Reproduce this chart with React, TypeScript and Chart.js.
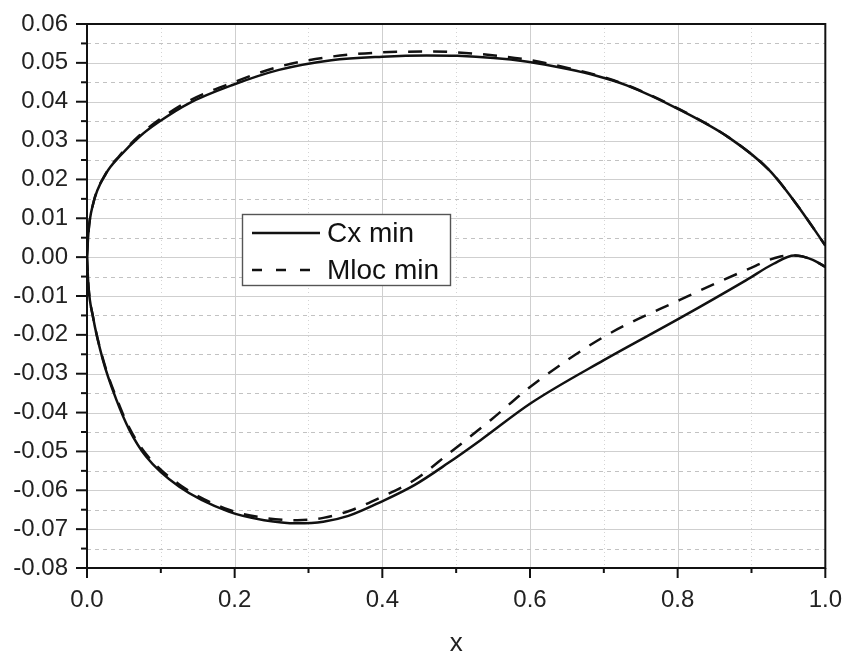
import React, { useEffect, useRef } from 'react';
import { Chart, registerables } from 'chart.js';

Chart.register(...registerables);

// ---- Data ----
const upperX = [0, 0.002, 0.008, 0.026, 0.044, 0.071, 0.098, 0.138, 0.197, 0.26, 0.331, 0.4, 0.46, 0.502, 0.597, 0.651, 0.691, 0.731, 0.803, 0.87, 0.924, 0.96, 1.0];
const cxUpperY = [0, 0.0065, 0.0135, 0.0216, 0.0259, 0.031, 0.0349, 0.0396, 0.0443, 0.0482, 0.0507, 0.0516, 0.0519, 0.0518, 0.0503, 0.0484, 0.0466, 0.0442, 0.0379, 0.0307, 0.0224, 0.0139, 0.003];
const mlocUpperY = [0, 0.0065, 0.0135, 0.0217, 0.0261, 0.0313, 0.0354, 0.0402, 0.0449, 0.049, 0.0516, 0.0527, 0.0529, 0.0527, 0.0508, 0.0487, 0.0468, 0.0443, 0.038, 0.0307, 0.0224, 0.0139, 0.003];

const cxLowerX = [0, 0.002, 0.008, 0.0216, 0.04, 0.0575, 0.08, 0.125, 0.192, 0.24, 0.285, 0.32, 0.354, 0.399, 0.444, 0.489, 0.533, 0.601, 0.7, 0.803, 0.893, 0.93, 0.958, 0.983, 1.0];
const cxLowerY = [0, -0.0075, -0.0153, -0.0265, -0.0368, -0.0445, -0.0513, -0.0591, -0.0655, -0.0677, -0.0685, -0.0681, -0.0666, -0.0629, -0.0586, -0.053, -0.0471, -0.0376, -0.0265, -0.0157, -0.0059, -0.0017, 0.0004, -0.0007, -0.0025];

const mlocLowerX = [0, 0.002, 0.008, 0.0216, 0.04, 0.0575, 0.08, 0.125, 0.192, 0.24, 0.285, 0.32, 0.354, 0.399, 0.444, 0.489, 0.547, 0.601, 0.7, 0.803, 0.893, 0.938, 0.96, 0.983, 1.0];
const mlocLowerY = [0, -0.0075, -0.0152, -0.0262, -0.0363, -0.044, -0.0507, -0.0585, -0.065, -0.0671, -0.0677, -0.0671, -0.0654, -0.0617, -0.0573, -0.0507, -0.0419, -0.0333, -0.0205, -0.011, -0.0033, 0.0001, 0.0004, -0.0007, -0.0025];

const seriesLabels = ['Cx min', 'Mloc min'];
const xAxisTitle = 'x';
const xRange = [0, 1];
const yRange = [-0.08, 0.06];
const xStep = 0.1;
const yStep = 0.005;

const FONT = '"Liberation Sans", Arial, Helvetica, sans-serif';

function pts(xs: number[], ys: number[]) {
  return xs.map((x, i) => ({ x, y: ys[i] }));
}

const isMajorX = (v: number) => Math.round(v * 10) % 2 === 0;
const isMajorY = (v: number) => Math.round(v * 1000) % 10 === 0;

const framePlugin = {
  id: 'frame',
  beforeDatasetsDraw(chart: any) {
    const { ctx, chartArea: a, scales } = chart;
    const xs = scales.x;
    const ys = scales.y;
    ctx.save();
    ctx.lineWidth = 1;
    xs.ticks.forEach((t: any) => {
      const v = t.value;
      if (v <= 1e-9 || v >= 1 - 1e-9) return;
      const px = Math.round(xs.getPixelForValue(v)) + 0.5;
      const major = isMajorX(v);
      ctx.strokeStyle = major ? '#cfcfcf' : '#d4d4d4';
      ctx.setLineDash(major ? [] : [1, 3]);
      ctx.beginPath();
      ctx.moveTo(px, a.top);
      ctx.lineTo(px, a.bottom);
      ctx.stroke();
    });
    ys.ticks.forEach((t: any) => {
      const v = t.value;
      if (v <= yRange[0] + 1e-9 || v >= yRange[1] - 1e-9) return;
      const py = Math.round(ys.getPixelForValue(v)) + 0.5;
      const major = isMajorY(v);
      ctx.strokeStyle = major ? '#cfcfcf' : '#c2c2c2';
      ctx.setLineDash(major ? [] : [4, 4]);
      ctx.beginPath();
      ctx.moveTo(a.left, py);
      ctx.lineTo(a.right, py);
      ctx.stroke();
    });
    ctx.restore();
  },
  afterDatasetsDraw(chart: any) {
    const { ctx, chartArea: a, scales } = chart;
    const xs = scales.x;
    const ys = scales.y;
    ctx.save();
    ctx.setLineDash([]);
    ctx.strokeStyle = '#111';
    ctx.lineWidth = 2;
    ctx.strokeRect(a.left, a.top, a.right - a.left, a.bottom - a.top);
    xs.ticks.forEach((t: any) => {
      const v = t.value;
      const px = xs.getPixelForValue(v);
      const len = isMajorX(v) ? 10 : 5;
      ctx.beginPath();
      ctx.moveTo(px, a.bottom);
      ctx.lineTo(px, a.bottom + len);
      ctx.stroke();
    });
    ys.ticks.forEach((t: any) => {
      const v = t.value;
      const py = ys.getPixelForValue(v);
      const len = isMajorY(v) ? 11 : 6;
      ctx.beginPath();
      ctx.moveTo(a.left, py);
      ctx.lineTo(a.left - len, py);
      ctx.stroke();
    });
    // x axis title
    ctx.fillStyle = '#222';
    ctx.font = `26px ${FONT}`;
    ctx.textAlign = 'center';
    ctx.textBaseline = 'middle';
    ctx.fillText(xAxisTitle, (a.left + a.right) / 2, a.bottom + 76);
    ctx.restore();
  },
  afterDraw(chart: any) {
    const { ctx, chartArea: a } = chart;
    const bx = a.left + 155;
    const by = a.top + 190;
    const bw = 208;
    const bh = 71;
    ctx.save();
    ctx.fillStyle = '#fff';
    ctx.fillRect(bx, by, bw, bh);
    ctx.strokeStyle = '#555';
    ctx.lineWidth = 1.4;
    ctx.strokeRect(bx + 0.5, by + 0.5, bw, bh);
    const rows = [by + 19, by + 56];
    ctx.strokeStyle = '#111';
    ctx.lineWidth = 2.5;
    ctx.setLineDash([]);
    ctx.beginPath();
    ctx.moveTo(bx + 10, rows[0]);
    ctx.lineTo(bx + 78, rows[0]);
    ctx.stroke();
    ctx.setLineDash([10, 14]);
    ctx.beginPath();
    ctx.moveTo(bx + 10, rows[1]);
    ctx.lineTo(bx + 78, rows[1]);
    ctx.stroke();
    ctx.setLineDash([]);
    ctx.fillStyle = '#111';
    ctx.font = `28px ${FONT}`;
    ctx.textBaseline = 'middle';
    ctx.textAlign = 'left';
    ctx.fillText(seriesLabels[0], bx + 85, rows[0] + 1);
    ctx.fillText(seriesLabels[1], bx + 85, rows[1] + 1);
    ctx.restore();
  },
};

const solid = {
  borderColor: '#111',
  borderWidth: 2.5,
  pointRadius: 0,
  cubicInterpolationMode: 'monotone',
  fill: false,
};

export default function App() {
  const ref = useRef<HTMLCanvasElement | null>(null);
  useEffect(() => {
    if (!ref.current) return;
    const chart = new Chart(ref.current, {
      type: 'line',
      data: {
        datasets: [
          { ...solid, label: seriesLabels[1], data: pts(upperX, mlocUpperY), borderDash: [14, 11] },
          { ...solid, label: seriesLabels[1], data: pts(mlocLowerX, mlocLowerY), borderDash: [14, 11] },
          { ...solid, label: seriesLabels[0], data: pts(upperX, cxUpperY) },
          { ...solid, label: seriesLabels[0], data: pts(cxLowerX, cxLowerY) },
        ],
      },
      options: {
        animation: false,
        responsive: true,
        maintainAspectRatio: false,
        layout: { padding: { left: 0, right: 21, top: 24, bottom: 0 } },
        plugins: { legend: { display: false }, tooltip: { enabled: false } },
        scales: {
          x: {
            type: 'linear',
            min: xRange[0],
            max: xRange[1],
            ticks: {
              stepSize: xStep,
              autoSkip: false,
              maxRotation: 0,
              padding: 8,
              color: '#222',
              font: { family: FONT, size: 24 },
              callback: (v: any) => (isMajorX(Number(v)) ? Number(v).toFixed(1) : ''),
            },
            grid: { display: true, drawOnChartArea: false, drawTicks: true, tickLength: 10, color: 'rgba(0,0,0,0)' },
            border: { display: false },
            afterFit: (s: any) => { s.height = 87; },
          },
          y: {
            type: 'linear',
            min: yRange[0],
            max: yRange[1],
            ticks: {
              stepSize: yStep,
              autoSkip: false,
              padding: 8,
              color: '#222',
              font: { family: FONT, size: 24 },
              callback: (v: any) => {
                let n = Number(v);
                if (Math.abs(n) < 1e-9) n = 0;
                return isMajorY(n) ? n.toFixed(2) : '';
              },
            },
            grid: { display: true, drawOnChartArea: false, drawTicks: true, tickLength: 11, color: 'rgba(0,0,0,0)' },
            border: { display: false },
            afterFit: (s: any) => { s.width = 87; },
          },
        },
      },
      plugins: [framePlugin],
    } as any);
    return () => chart.destroy();
  }, []);
  return (
    <div style={{ position: 'fixed', left: 0, top: 0, width: 850, height: 655, background: '#fff' }}>
      <canvas ref={ref} />
    </div>
  );
}
